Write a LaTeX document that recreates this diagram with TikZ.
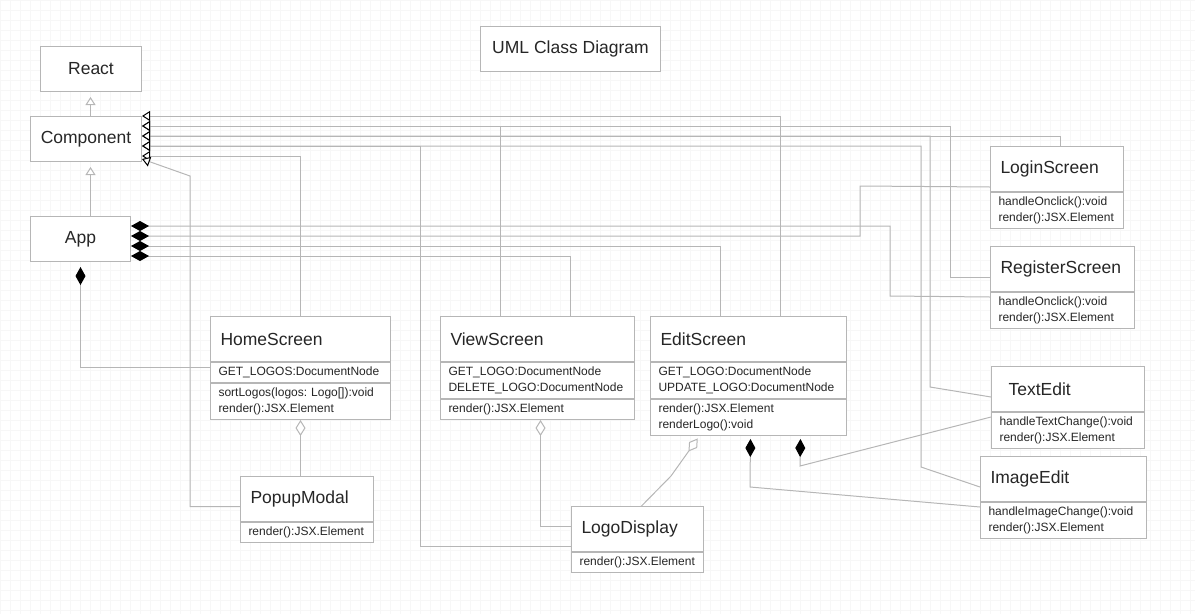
\documentclass[tikz,border=0pt]{standalone}
\usepackage{fontspec}
\setmainfont{Liberation Sans}
\usetikzlibrary{arrows.meta,positioning}
\definecolor{lgray}{RGB}{182,182,182}
\definecolor{gridc}{RGB}{247,247,247}
\definecolor{ink}{RGB}{38,38,38}

\begin{document}
\begin{tikzpicture}[x=1pt, y=-1pt, line width=1pt,
    plainbox/.style={draw=lgray, fill=white, text=ink, anchor=north west, minimum height=45pt, font=\fontsize{17.5}{21}\selectfont},
    classhead/.style={plainbox, text width=#1, inner xsep=10pt, align=left},
    members/.style={draw=lgray, fill=white, text=ink, text width=#1, inner xsep=8pt, inner ysep=2pt, align=left, font=\fontsize{12}{16}\selectfont\frenchspacing, execute at begin node=\strut, execute at end node=\strut},
    extends/.style={draw=lgray, -{Triangle[length=8pt, width=10pt, color=black, fill=white, line width=1pt]}},
    extendsg/.style={draw=lgray, shorten >=5pt, -{Triangle[length=8pt, width=10pt, color=lgray, fill=white, line width=1pt]}},
    owns/.style={draw=lgray, {Diamond[length=18pt, width=10pt, color=black, fill=black]}-},
    has/.style={draw=lgray, {Diamond[length=16pt, width=10pt, color=lgray, fill=white, line width=1pt]}-}]
    \useasboundingbox (0,0) rectangle (1195,614);
    \draw[gridc, line width=0.6pt, step=10pt] (0,0) grid (1195,614);

    % Nodes
    \node[plainbox, minimum width=180pt] (title) at (480,26) {UML Class Diagram};
    \node[plainbox, minimum width=101pt] (react) at (40,46) {React};
    \node[plainbox, minimum width=111pt] (comp) at (30,116) {Component};
    \node[plainbox, minimum width=100pt] (app) at (30,216) {App};

    \node[classhead=160pt] (home) at (210,316) {HomeScreen};
    \node[members=164pt, below=0pt of home] (homeattr) {GET\_LOGOS:DocumentNode};
    \node[members=164pt, below=0pt of homeattr] (homeops) {sortLogos(logos: Logo[]):void\\render():JSX.Element};

    \node[classhead=174pt] (view) at (440,316) {ViewScreen};
    \node[members=178pt, below=0pt of view] (viewattr) {GET\_LOGO:DocumentNode\\DELETE\_LOGO:DocumentNode};
    \node[members=178pt, below=0pt of viewattr] (viewops) {render():JSX.Element};

    \node[classhead=176pt] (edit) at (650,316) {EditScreen};
    \node[members=180pt, below=0pt of edit] (editattr) {GET\_LOGO:DocumentNode\\UPDATE\_LOGO:DocumentNode};
    \node[members=180pt, below=0pt of editattr] (editops) {render():JSX.Element\\renderLogo():void};

    \node[classhead=113pt] (login) at (990,146) {LoginScreen};
    \node[members=117pt, below=0pt of login] (loginops) {handleOnclick():void\\render():JSX.Element};

    \node[classhead=124pt] (reg) at (990,246) {RegisterScreen};
    \node[members=128pt, below=0pt of reg] (regops) {handleOnclick():void\\render():JSX.Element};

    \node[classhead=133pt] (textedit) at (991,366) {\hspace*{7pt}TextEdit};
    \node[members=137pt, below=0pt of textedit] (textops) {handleTextChange():void\\render():JSX.Element};

    \node[classhead=146pt] (image) at (980,456) {ImageEdit};
    \node[members=150pt, below=0pt of image] (imageops) {handleImageChange():void\\render():JSX.Element};

    \node[classhead=113pt] (popup) at (240,476) {PopupModal};
    \node[members=117pt, below=0pt of popup] (popupops) {render():JSX.Element};

    \node[classhead=112pt] (logo) at (571,506) {LogoDisplay};
    \node[members=116pt, below=0pt of logo] (logoops) {render():JSX.Element};

    % Arrows
    \draw[extendsg] ([xshift=4.5pt]comp.north) -- ([xshift=-0.5pt]react.south);
    \draw[extendsg] ([xshift=10pt]app.north) -- ([xshift=4.5pt]comp.south);
    \draw[extends] ([xshift=32pt]edit.north) |- (comp.north east);
    \draw[extends] ([yshift=-8pt]reg.west) -| (950,126) -- ([yshift=-10pt]comp.north east);
    \draw[extends] ([xshift=-37pt]view.north) |- ([yshift=-10pt]comp.north east);
    \draw[extends] ([xshift=3.5pt]login.north) |- ([yshift=-20pt]comp.north east);
    \draw[extends] ([yshift=-8pt]textedit.west) -- (930,387) |- ([yshift=-20pt]comp.north east);
    \draw[extends] ([yshift=-8pt]image.west) -- (921,467) |- ([yshift=-30pt]comp.north east);
    \draw[extends] ([yshift=-17pt]logo.west) -| (420,146) -- ([yshift=-30pt]comp.north east);
    \draw[extends] (home.north) |- ([yshift=-40pt]comp.north east);
    \draw[extends] ([yshift=-7.5pt]popup.west) -| (190,176) -- ([yshift=3pt]comp.south east);

    \draw[owns] ([yshift=-10pt]app.north east) -| (890,296) -- ([yshift=-5pt]reg.south west);
    \draw[owns] ([yshift=-20pt]app.north east) -| (860,186) -- ([yshift=5pt]login.south west);
    \draw[owns] ([yshift=-30pt]app.north east) -| ([xshift=-28pt]edit.north);
    \draw[owns] ([yshift=-40pt]app.north east) -| ([xshift=33pt]view.north);
    \draw[owns, shorten <=5pt] (app.south) |- ([yshift=-5pt]home.south west);
    \draw[owns, shorten <=3pt] ([xshift=52pt]editops.south) -- (800,466) -- ([yshift=-5pt]textedit.south west);
    \draw[owns, shorten <=3pt] ([xshift=2pt]editops.south) -- (750,487) -- ([yshift=-5pt]image.south west);

    \draw[has] (homeops.south) -- (homeops.south |- popup.north);
    \draw[has] ([xshift=3pt]viewops.south) |- ([yshift=2.5pt]logo.west);
    \draw[has, shorten <=3pt] ([xshift=-49pt]editops.south) -- (671,476) -- ([xshift=4pt]logo.north);
\end{tikzpicture}
\end{document}
